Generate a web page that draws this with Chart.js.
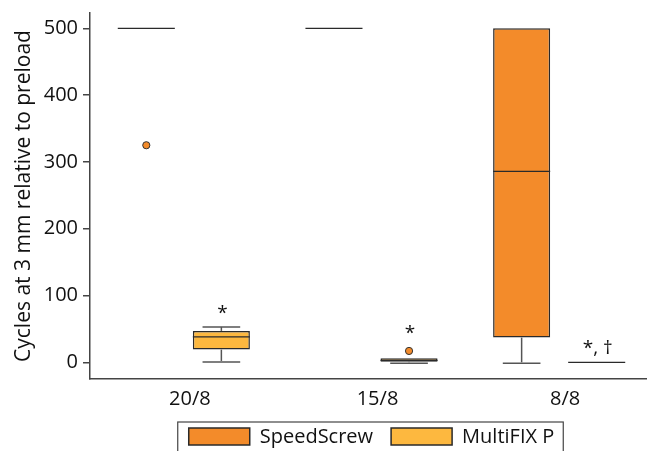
<!DOCTYPE html>
<html lang="en">
<head>
<meta charset="UTF-8">
<title>Cycles at 3 mm relative to preload</title>
<script src="https://cdn.jsdelivr.net/npm/chart.js"></script>
<style>
  html, body { margin: 0; padding: 0; overflow: hidden; background: white; }
  canvas { display: block; }
</style>
</head>
<body>
<canvas id="boxChart" width="653" height="451"></canvas>
<script>
const categories = ['20/8', '15/8', '8/8'];

// SpeedScrew box plot values
const speedMin = [500, 500, 0];
const speedQ1 = [500, 500, 37];
const speedMedian = [500, 500, 286];
const speedQ3 = [500, 500, 500];
const speedMax = [500, 500, 500];
const speedOutliers = [[325], [], []];
const speedNotes = ['', '', ''];

// MultiFIX P box plot values
const multiMin = [2, 0, 0];
const multiQ1 = [19, 1, 0];
const multiMedian = [38, 3, 0];
const multiQ3 = [47, 6, 0];
const multiMax = [53, 6, 0];
const multiOutliers = [[], [17], []];
const multiNotes = ['*', '*', '*, †'];

const yTicks = [0, 100, 200, 300, 400, 500];

const FONT = '"Open Sans", "Noto Sans", sans-serif';
const orange = '#F38B2A';
const lightOrange = '#FDB83F';

const boxStats = [
    { min: speedMin, q1: speedQ1, median: speedMedian, q3: speedQ3, max: speedMax, outliers: speedOutliers, notes: speedNotes },
    { min: multiMin, q1: multiQ1, median: multiMedian, q3: multiQ3, max: multiMax, outliers: multiOutliers, notes: multiNotes }
];

function line(ctx, x1, y1, x2, y2) {
    ctx.beginPath();
    ctx.moveTo(x1, y1);
    ctx.lineTo(x2, y2);
    ctx.stroke();
}

// whiskers, medians, outliers and the significance marks
const boxExtras = {
    id: 'boxExtras',
    afterDatasetsDraw(chart) {
        const ctx = chart.ctx;
        const ys = chart.scales.y;
        const py = v => ys.getPixelForValue(v);
        chart.data.datasets.forEach((ds, di) => {
            const st = boxStats[di];
            chart.getDatasetMeta(di).data.forEach((bar, i) => {
                const x = bar.x, w = bar.width, cap = w * 0.66;
                ctx.save();
                ctx.strokeStyle = '#555';
                ctx.lineWidth = 1.5;
                if (st.max[i] > st.q3[i]) {
                    line(ctx, x, py(st.q3[i]), x, py(st.max[i]));
                    line(ctx, x - cap / 2, py(st.max[i]), x + cap / 2, py(st.max[i]));
                }
                if (st.min[i] < st.q1[i]) {
                    line(ctx, x, py(st.q1[i]), x, py(st.min[i]));
                    line(ctx, x - cap / 2, py(st.min[i]) + 1, x + cap / 2, py(st.min[i]) + 1);
                }
                ctx.strokeStyle = '#2a2a2a';
                ctx.lineWidth = 1.3;
                line(ctx, x - w / 2, py(st.median[i]), x + w / 2, py(st.median[i]));

                let top = py(st.max[i]);
                st.outliers[i].forEach(v => {
                    ctx.beginPath();
                    ctx.arc(x, py(v), 3.6, 0, Math.PI * 2);
                    ctx.fillStyle = orange;
                    ctx.fill();
                    ctx.lineWidth = 1;
                    ctx.strokeStyle = '#333';
                    ctx.stroke();
                    top = Math.min(top, py(v) - 4);
                });
                if (st.notes[i]) {
                    ctx.fillStyle = '#111';
                    ctx.font = '19px ' + FONT;
                    ctx.textAlign = 'center';
                    ctx.textBaseline = 'alphabetic';
                    ctx.fillText(st.notes[i], x + 1, top - 8);
                }
                ctx.restore();
            });
        });
    },
    afterDraw(chart) {
        // legend with a frame, centred under the plot
        const ctx = chart.ctx;
        const area = chart.chartArea;
        ctx.save();
        ctx.font = '20px ' + FONT;
        const sw = 61, sh = 17, gap = 10, spacing = 18;
        const items = chart.data.datasets.map(ds => ({
            text: ds.label,
            color: ds.backgroundColor,
            width: sw + gap + ctx.measureText(ds.label).width
        }));
        const total = items.reduce((s, it) => s + it.width, 0) + spacing * (items.length - 1);
        let x = (area.left + area.right) / 2 - total / 2;
        const top = 428;
        ctx.strokeStyle = '#444';
        ctx.lineWidth = 1.2;
        ctx.strokeRect(x - 11, top - 6, total + 20, 60);
        items.forEach(it => {
            ctx.fillStyle = it.color;
            ctx.fillRect(x, top, sw, sh);
            ctx.strokeStyle = '#2a2a2a';
            ctx.lineWidth = 1.5;
            ctx.strokeRect(x, top, sw, sh);
            ctx.fillStyle = '#111';
            ctx.textAlign = 'left';
            ctx.textBaseline = 'alphabetic';
            ctx.fillText(it.text, x + sw + gap, top + 15);
            x += it.width + spacing;
        });
        ctx.restore();
    }
};

const ctx = document.getElementById('boxChart').getContext('2d');
const boxChart = new Chart(ctx, {
    type: 'bar',
    data: {
        labels: categories,
        datasets: [{
            label: 'SpeedScrew',
            data: categories.map((c, i) => [speedQ1[i], speedQ3[i]]),
            backgroundColor: orange,
            borderColor: '#2a2a2a',
            borderWidth: 1.5,
            borderSkipped: false
        }, {
            label: 'MultiFIX P',
            data: categories.map((c, i) => [multiQ1[i], multiQ3[i]]),
            backgroundColor: lightOrange,
            borderColor: '#2a2a2a',
            borderWidth: 1.5,
            borderSkipped: false
        }]
    },
    options: {
        responsive: false,
        animation: false,
        devicePixelRatio: 1,
        categoryPercentage: 0.8,
        barPercentage: 0.76,
        layout: { padding: { top: 13, left: 0, right: 0, bottom: 0 } },
        plugins: {
            legend: { display: false },
            tooltip: { enabled: false }
        },
        scales: {
            x: {
                grid: { display: false },
                border: { display: true, color: '#444', width: 1.5 },
                ticks: { color: '#111', font: { family: FONT, size: 20 }, padding: 0, labelOffset: 6 },
                afterFit(scale) {
                    scale.height = 72;
                    scale.paddingLeft = 0;
                    scale.paddingRight = 0;
                }
            },
            y: {
                min: -25,
                max: 523,
                grid: { display: true, drawOnChartArea: false, tickLength: 7, color: '#444', lineWidth: 1.5 },
                border: { display: true, color: '#444', width: 1.5 },
                ticks: { color: '#111', font: { family: FONT, size: 20 }, padding: 5, stepSize: 100 },
                afterBuildTicks(scale) { scale.ticks = yTicks.map(v => ({ value: v })); },
                title: {
                    display: true,
                    text: 'Cycles at 3 mm relative to preload',
                    color: '#111',
                    font: { family: FONT, size: 21 },
                    padding: { top: 11, bottom: 0 }
                },
                afterFit(scale) {
                    scale.width = 90;
                    scale.paddingTop = 0;
                    scale.paddingBottom = 0;
                }
            }
        }
    },
    plugins: [boxExtras]
});
</script>
</body>
</html>
